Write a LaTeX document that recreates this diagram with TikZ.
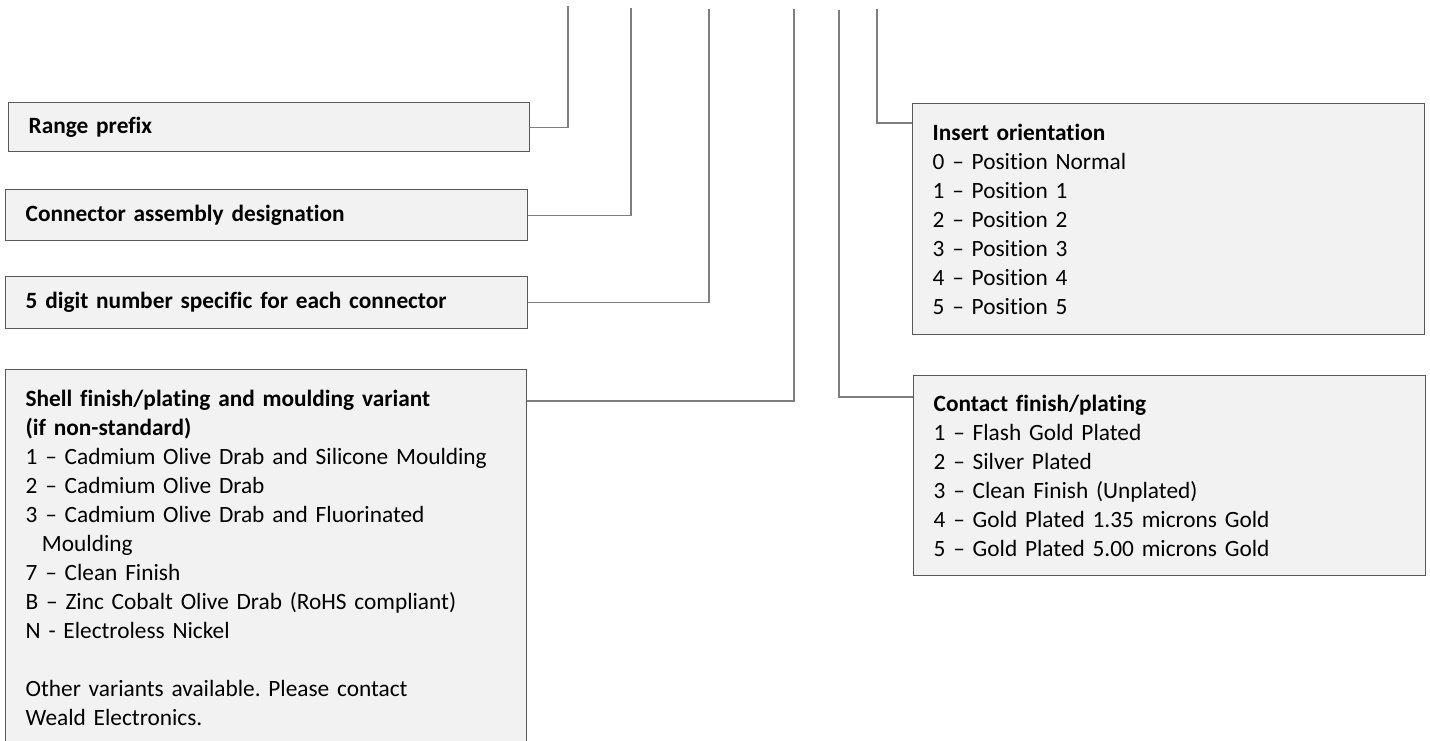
\documentclass[tikz,border=0pt]{standalone}
\usepackage{fontspec}
\setmainfont{Carlito}[Ligatures=NoCommon,WordSpace=0.9]
\usepackage{xcolor}
\usetikzlibrary{positioning,calc}
\definecolor{relleno}{HTML}{F2F2F2}
\definecolor{borde}{HTML}{595959}
\definecolor{guialinea}{HTML}{7F7F7F}
\frenchspacing

\begin{document}
\begin{tikzpicture}[x=0.75pt,y=-0.75pt,
  font=\fontsize{17.5}{21.75}\selectfont,
  campo/.style={draw=borde,fill=relleno,line width=1pt,anchor=north west,align=left,
    inner xsep=15pt,inner ysep=0pt},
  izq/.style={campo,text width=361.5pt},
  der/.style={campo,text width=354pt},
  guia/.style={draw=guialinea,line width=1pt}]
\useasboundingbox (0,0) rectangle (1430,740);
% puntos de arranque arriba
\foreach \n/\x/\y in {t1/568/6, t2/631/8, t3/709/9, t4/794/9, t5/839/10, t6/877/9}{
  \coordinate (\n) at (\x,\y);
}
% cajas de la izquierda
\node[izq,minimum height=36.75pt,text width=360.75pt] (rp) at (8,102) {\textbf{Range prefix}};
\node[izq,minimum height=38.25pt] (ca) at (5,189) {\textbf{Connector assembly designation}};
\node[izq,minimum height=39pt] (cd) at (5,276) {\textbf{5 digit number specific for each connector}};
\node[izq,inner ysep=15pt,text width=360.75pt] (sh) at (5,369) {\textbf{Shell finish/plating and moulding variant}\\
  \textbf{(if non-standard)}\\
  1 -- Cadmium Olive Drab and Silicone Moulding\\
  2 -- Cadmium Olive Drab\\
  3 -- Cadmium Olive Drab and Fluorinated\\
  \hspace*{0.7em}Moulding\\
  7 -- Clean Finish\\
  B -- Zinc Cobalt Olive Drab (RoHS compliant)\\
  N - Electroless Nickel\\
  ~\\
  Other variants available. Please contact\\
  Weald Electronics.\rule[-12pt]{0pt}{12pt}};
% cajas de la derecha
\node[der,minimum height=173.25pt] (io) at (912,103) {\textbf{Insert orientation}\\
  0 -- Position Normal\\
  1 -- Position 1\\
  2 -- Position 2\\
  3 -- Position 3\\
  4 -- Position 4\\
  5 -- Position 5};
\node[der,minimum height=150pt] (cf) at (913,375) {\textbf{Contact finish/plating}\\
  1 -- Flash Gold Plated\\
  2 -- Silver Plated\\
  3 -- Clean Finish (Unplated)\\
  4 -- Gold Plated 1.35 microns Gold\\
  5 -- Gold Plated 5.00 microns Gold};
% lineas guia
\draw[guia] (t1) |- (rp.east);
\draw[guia] (t2) |- (ca.east);
\draw[guia] (t3) |- (cd.east);
\draw[guia] (t4) |- ([yshift=-24pt]sh.north east);
\draw[guia] (t5) |- ([yshift=-16.5pt]cf.north west);
\draw[guia] (t6) |- ([yshift=-15pt]io.north west);
\end{tikzpicture}
\end{document}
